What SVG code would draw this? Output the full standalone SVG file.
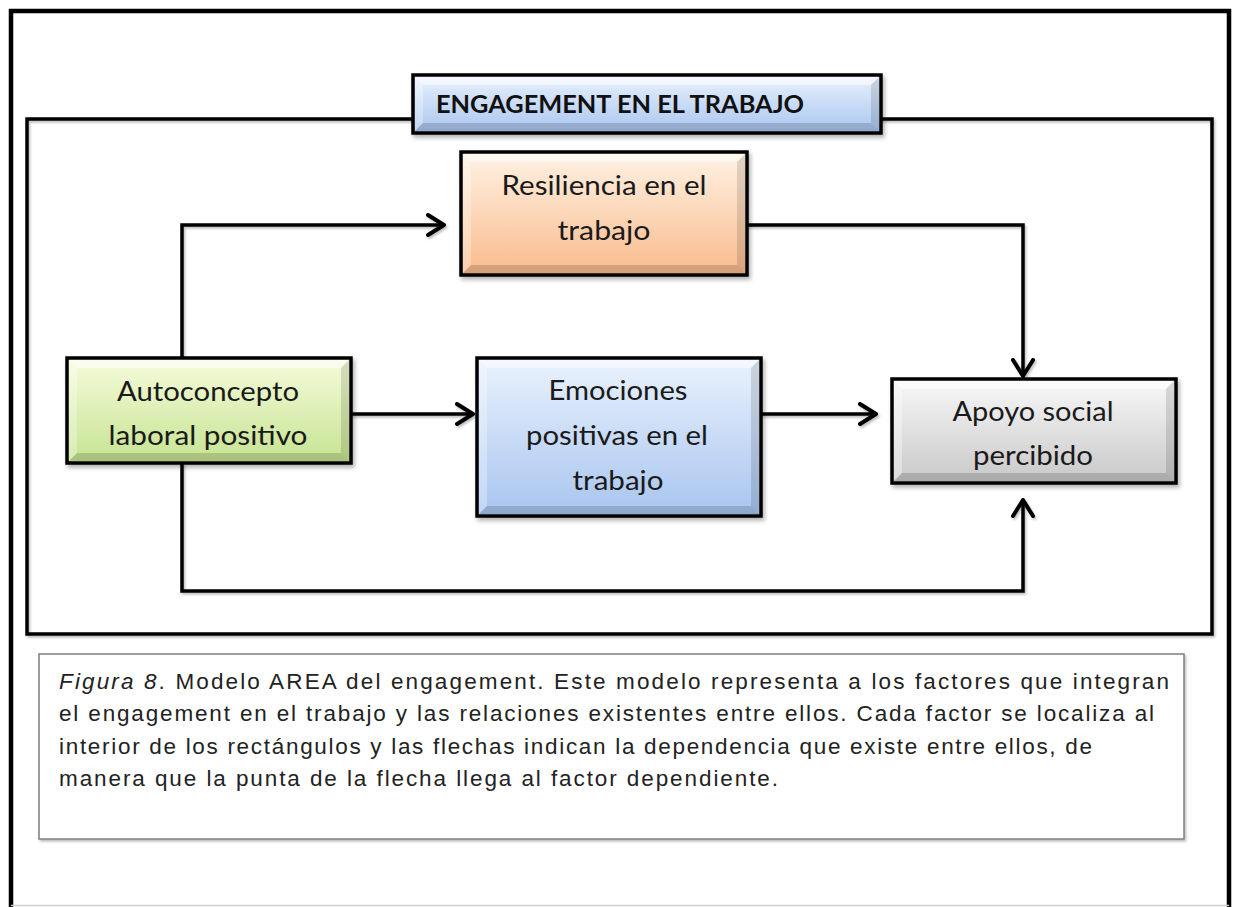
<svg xmlns="http://www.w3.org/2000/svg" width="1237" height="907" viewBox="0 0 1237 907">
  <style>
    .box { stroke: #000; stroke-width: 3.5; }
    .hl { fill: #fff; }
    .sh { fill: #000; }
    .node { font-family: Lato, "Open Sans", "Liberation Sans", sans-serif; font-size: 26px; fill: #1a1a1a; text-anchor: middle; }
    .title { font-family: Lato, "Open Sans", "Liberation Sans", sans-serif; font-size: 25px; font-weight: bold; fill: #111; }
    .conn { fill: none; stroke: #000; stroke-width: 3.5; stroke-linejoin: miter; }
    .cap { font-family: "Liberation Sans", Arial, sans-serif; font-size: 22.5px; fill: #222; }
  </style>
  <defs>
    <filter id="shadow" x="-10%" y="-10%" width="130%" height="140%">
      <feDropShadow dx="2" dy="3" stdDeviation="2" flood-color="#000" flood-opacity="0.3"/>
    </filter>
    <filter id="lshadow" x="-5%" y="-5%" width="110%" height="110%">
      <feDropShadow dx="1.5" dy="2" stdDeviation="1.2" flood-color="#000" flood-opacity="0.25"/>
    </filter>
    <linearGradient id="gBlue" x1="0" y1="0" x2="0" y2="1">
      <stop offset="0" stop-color="#eaf2fd"/>
      <stop offset="1" stop-color="#a8c5ef"/>
    </linearGradient>
    <linearGradient id="gOrange" x1="0" y1="0" x2="0" y2="1">
      <stop offset="0" stop-color="#fff2e4"/>
      <stop offset="1" stop-color="#f9bb8c"/>
    </linearGradient>
    <linearGradient id="gGreen" x1="0" y1="0" x2="0" y2="1">
      <stop offset="0" stop-color="#f6fcdc"/>
      <stop offset="1" stop-color="#c6e391"/>
    </linearGradient>
    <linearGradient id="gGrey" x1="0" y1="0" x2="0" y2="1">
      <stop offset="0" stop-color="#f8f8f8"/>
      <stop offset="1" stop-color="#c8c8c8"/>
    </linearGradient>
    <marker id="arrow" viewBox="0 0 20 24" refX="18" refY="12" markerWidth="20" markerHeight="24" markerUnits="userSpaceOnUse" orient="auto">
      <path d="M2,2 L18,12 L2,22" fill="none" stroke="#000" stroke-width="4" stroke-linejoin="round" stroke-linecap="round"/>
    </marker>
  </defs>

  <rect x="0" y="0" width="1237" height="907" fill="#fff"/>

  <!-- outer border -->
  <g id="outer-border">
    <path d="M11,907 V11 H1229 V907" fill="none" stroke="#000" stroke-width="4.5"/>
    <line x1="11" y1="905.5" x2="1229" y2="905.5" stroke="#cfcfcf" stroke-width="1.5"/>
  </g>

  <!-- inner frame -->
  <g id="frame">
    <rect x="27" y="119" width="1185" height="515" fill="none" stroke="#000" stroke-width="3.5" filter="url(#lshadow)"/>
  </g>

  <!-- connectors -->
  <g id="connectors" filter="url(#lshadow)">
    <path class="conn" d="M182,358 V225 H444" marker-end="url(#arrow)"/>
    <path class="conn" d="M747,225 H1023 V376" marker-end="url(#arrow)"/>
    <path class="conn" d="M351,414 H473" marker-end="url(#arrow)"/>
    <path class="conn" d="M761,414 H876" marker-end="url(#arrow)"/>
    <path class="conn" d="M182,463 V591 H1023 V500" marker-end="url(#arrow)"/>
  </g>

  <!-- title node -->
  <g id="node-engagement">
    <rect class="box" x="413" y="75" width="468" height="58" fill="url(#gBlue)" filter="url(#shadow)"/>
    <polygon class="hl" opacity="0.55" points="415,77 879,77 871,85 423,85"/>
    <polygon class="hl" opacity="0.3" points="415,77 423,85 423,123 415,131"/>
    <polygon class="sh" opacity="0.12" points="879,77 879,131 871,123 871,85"/>
    <polygon class="sh" opacity="0.15" points="415,131 879,131 871,123 423,123"/>
    <text class="title" x="436" y="113" textLength="368" lengthAdjust="spacingAndGlyphs">ENGAGEMENT EN EL TRABAJO</text>
  </g>

  <!-- Resiliencia -->
  <g id="node-resiliencia">
    <rect class="box" x="461" y="152" width="286" height="123" fill="url(#gOrange)" filter="url(#shadow)"/>
    <polygon class="hl" opacity="0.55" points="463,154 745,154 737,162 471,162"/>
    <polygon class="hl" opacity="0.3" points="463,154 471,162 471,265 463,273"/>
    <polygon class="sh" opacity="0.12" points="745,154 745,273 737,265 737,162"/>
    <polygon class="sh" opacity="0.15" points="463,273 745,273 737,265 471,265"/>
    <text class="node" x="604" y="195" textLength="205" lengthAdjust="spacingAndGlyphs">Resiliencia en el</text>
    <text class="node" x="604" y="240" textLength="93" lengthAdjust="spacingAndGlyphs">trabajo</text>
  </g>

  <!-- Autoconcepto -->
  <g id="node-autoconcepto">
    <rect class="box" x="67" y="358" width="284" height="105" fill="url(#gGreen)" filter="url(#shadow)"/>
    <polygon class="hl" opacity="0.55" points="69,360 349,360 341,368 77,368"/>
    <polygon class="hl" opacity="0.3" points="69,360 77,368 77,453 69,461"/>
    <polygon class="sh" opacity="0.12" points="349,360 349,461 341,453 341,368"/>
    <polygon class="sh" opacity="0.15" points="69,461 349,461 341,453 77,453"/>
    <text class="node" x="208" y="401" textLength="182" lengthAdjust="spacingAndGlyphs">Autoconcepto</text>
    <text class="node" x="208" y="445" textLength="199" lengthAdjust="spacingAndGlyphs">laboral positivo</text>
  </g>

  <!-- Emociones -->
  <g id="node-emociones">
    <rect class="box" x="477" y="358" width="284" height="158" fill="url(#gBlue)" filter="url(#shadow)"/>
    <polygon class="hl" opacity="0.55" points="479,360 759,360 751,368 487,368"/>
    <polygon class="hl" opacity="0.3" points="479,360 487,368 487,506 479,514"/>
    <polygon class="sh" opacity="0.12" points="759,360 759,514 751,506 751,368"/>
    <polygon class="sh" opacity="0.15" points="479,514 759,514 751,506 487,506"/>
    <text class="node" x="618" y="400" textLength="139" lengthAdjust="spacingAndGlyphs">Emociones</text>
    <text class="node" x="617" y="445" textLength="182" lengthAdjust="spacingAndGlyphs">positivas en el</text>
    <text class="node" x="618" y="490" textLength="91" lengthAdjust="spacingAndGlyphs">trabajo</text>
  </g>

  <!-- Apoyo social -->
  <g id="node-apoyo">
    <rect class="box" x="892" y="379" width="284" height="104" fill="url(#gGrey)" filter="url(#shadow)"/>
    <polygon class="hl" opacity="0.6" points="894,381 1174,381 1166,389 902,389"/>
    <polygon class="hl" opacity="0.35" points="894,381 902,389 902,473 894,481"/>
    <polygon class="sh" opacity="0.12" points="1174,381 1174,481 1166,473 1166,389"/>
    <polygon class="sh" opacity="0.15" points="894,481 1174,481 1166,473 902,473"/>
    <text class="node" x="1033" y="421" textLength="161" lengthAdjust="spacingAndGlyphs">Apoyo social</text>
    <text class="node" x="1033" y="465" textLength="120" lengthAdjust="spacingAndGlyphs">percibido</text>
  </g>

  <!-- caption -->
  <g id="caption">
    <rect x="39" y="654" width="1145" height="185" fill="#fff" stroke="#7f7f7f" stroke-width="1.5" filter="url(#lshadow)"/>
    <text class="cap" x="59" y="689" textLength="1110" lengthAdjust="spacing"><tspan font-style="italic">Figura 8</tspan>. Modelo AREA del engagement. Este modelo representa a los factores que integran</text>
    <text class="cap" x="59" y="721" textLength="1095" lengthAdjust="spacing">el engagement en el trabajo y las relaciones existentes entre ellos. Cada factor se localiza al</text>
    <text class="cap" x="59" y="754" textLength="1033" lengthAdjust="spacing">interior de los rectángulos y las flechas indican la dependencia que existe entre ellos, de</text>
    <text class="cap" x="59" y="786" textLength="719" lengthAdjust="spacing">manera que la punta de la flecha llega al factor dependiente.</text>
  </g>
</svg>
